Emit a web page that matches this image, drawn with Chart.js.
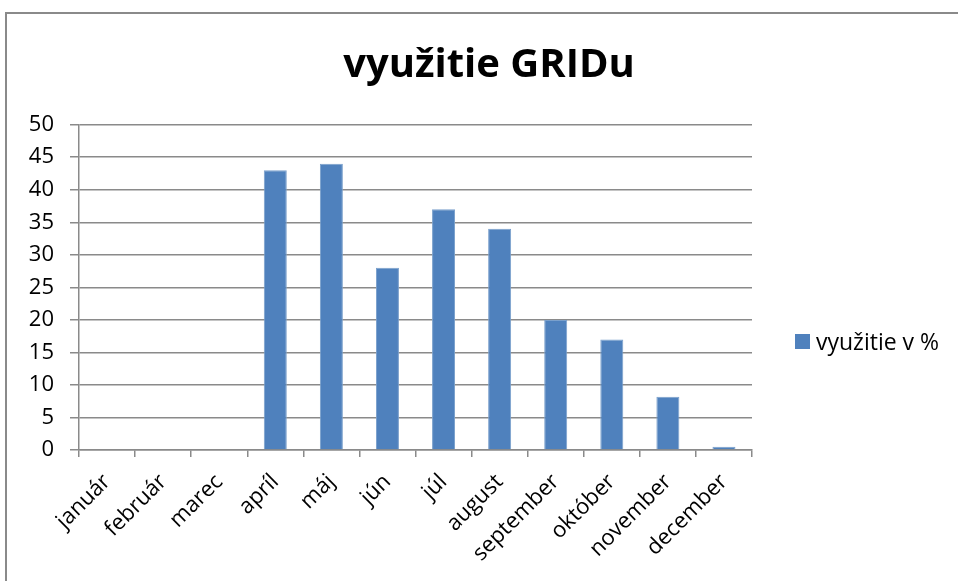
<!DOCTYPE html>
<html>
<head>
<meta charset="utf-8">
<script src="https://cdn.jsdelivr.net/npm/chart.js@4/dist/chart.umd.min.js"></script>
<style>
  html, body { margin: 0; padding: 0; background: #fff; }
  #wrap { position: relative; width: 958px; height: 581px; overflow: hidden; }
  #frame { position: absolute; left: 5px; top: 12px; width: 1000px; height: 700px;
           border-left: 2px solid #8a8a8a; border-top: 2px solid #8a8a8a; }
  canvas { position: absolute; left: 0; top: 0; }
  #legend { position: absolute; left: 795px; top: 325px; font: 23px "Open Sans", sans-serif;
            color: #000; display: flex; align-items: center; }
  #legend span.box { display: inline-block; width: 15px; height: 15px; background: #4F81BD; margin-right: 6px; }
</style>
</head>
<body>
<div id="wrap">
  <div id="frame"></div>
  <canvas id="myChart" width="958" height="581"></canvas>
  <div id="legend"><span class="box"></span><span id="legendText"></span></div>
</div>
<script>
var months = ['január', 'február', 'marec', 'apríl', 'máj', 'jún', 'júl', 'august', 'september', 'október', 'november', 'december'];
var usage = [0, 0, 0, 43, 44, 28, 37, 34, 20, 17, 8.2, 0.5];
var seriesName = 'využitie v %';
var chartTitle = 'využitie GRIDu';

document.getElementById('legendText').textContent = seriesName;

var ctx = document.getElementById('myChart').getContext('2d');

new Chart(ctx, {
    type: 'bar',
    data: {
        labels: months,
        datasets: [
            {
                label: seriesName,
                data: usage,
                backgroundColor: '#4F81BD',
                borderColor: '#7aa0cc',
                borderWidth: 1,
                categoryPercentage: 1,
                barPercentage: 0.41
            }
        ]
    },
    options: {
        responsive: false,
        animation: false,
        layout: {
            padding: { left: 20, right: 0, top: 0, bottom: 0 }
        },
        plugins: {
            title: {
                display: true,
                text: chartTitle,
                color: '#000',
                font: { family: 'Open Sans', size: 40, weight: 'bold', lineHeight: 1.2 },
                padding: { top: 42, bottom: 34.7 }
            },
            legend: { display: false },
            tooltip: { enabled: false }
        },
        scales: {
            x: {
                grid: {
                    offset: true,
                    drawOnChartArea: false,
                    drawTicks: true,
                    tickLength: 7,
                    color: '#8a8a8a',
                    lineWidth: 1.5
                },
                border: { color: '#8a8a8a', width: 1.5 },
                ticks: {
                    autoSkip: false,
                    minRotation: 45,
                    maxRotation: 45,
                    color: '#000',
                    padding: 12,
                    font: { family: 'Open Sans', size: 22 }
                },
                afterFit: function(scale) { scale.height = 131; }
            },
            y: {
                min: 0,
                max: 50,
                ticks: {
                    stepSize: 5,
                    color: '#000',
                    padding: 16,
                    font: { family: 'Open Sans', size: 22 }
                },
                grid: {
                    color: '#8a8a8a',
                    lineWidth: 1.5,
                    tickLength: 9
                },
                border: { color: '#8a8a8a', width: 1.5 },
                afterFit: function(scale) { scale.width = 59; }
            },
            // empty right axis only reserves room for the legend
            side: {
                type: 'linear',
                position: 'right',
                grid: { display: false },
                border: { display: false },
                ticks: { display: false },
                afterFit: function(scale) { scale.width = 206; }
            }
        }
    }
});
</script>
</body>
</html>
